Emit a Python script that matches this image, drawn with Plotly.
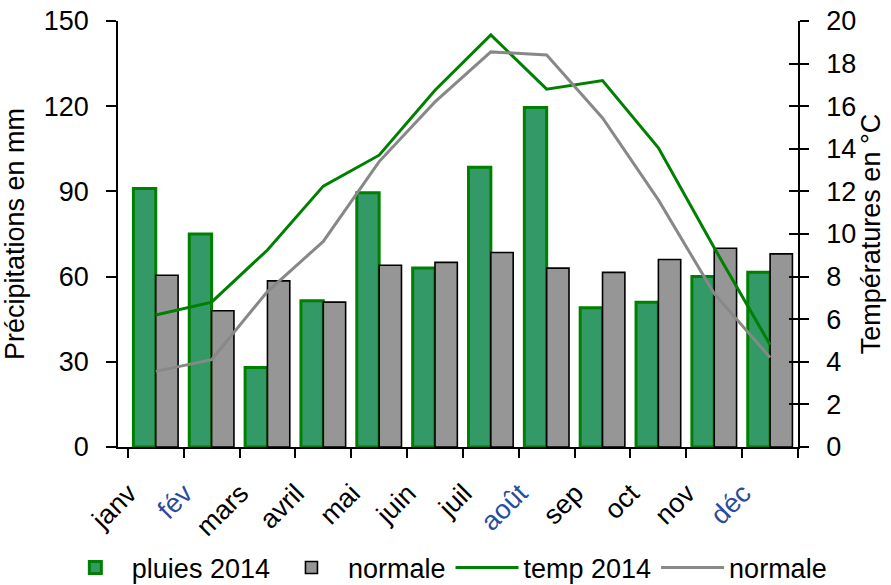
import plotly.graph_objects as go

months = ["janv", "fév", "mars", "avril", "mai", "juin", "juil", "août", "sep", "oct", "nov", "déc"]
month_labels = ["janv", "<span style='color:#2a4c9c'>fév</span>", "mars", "avril", "mai", "juin", "juil",
                "<span style='color:#2a4c9c'>août</span>", "sep", "oct", "nov",
                "<span style='color:#2a4c9c'>déc</span>"]
pluies_2014 = [91, 75, 28, 51.5, 89.5, 63, 98.5, 119.5, 49, 51, 60, 61.5]
pluies_normale = [60.5, 48, 58.5, 51, 64, 65, 68.5, 63, 61.5, 66, 70, 68]
temp_2014 = [6.2, 6.8, 9.25, 12.25, 13.7, 16.75, 19.35, 16.8, 17.2, 14.05, 9.35, 4.8]
temp_normale = [3.55, 4.1, 7.3, 9.65, 13.4, 16.2, 18.55, 18.4, 15.45, 11.6, 7.2, 4.2]
left_ticks = [0, 30, 60, 90, 120, 150]
right_ticks = [0, 2, 4, 6, 8, 10, 12, 14, 16, 18, 20]

FONT = "Liberation Sans, Arial, sans-serif"
FS = 27

fig = go.Figure()
fig.add_trace(go.Bar(x=months, y=pluies_2014, name="pluies 2014",
                     marker=dict(color="#339966", line=dict(color="#008000", width=3))))
fig.add_trace(go.Bar(x=months, y=pluies_normale, name="normale",
                     marker=dict(color="#969696", line=dict(color="#000000", width=1.6))))
fig.add_trace(go.Scatter(x=months, y=temp_2014, name="temp 2014", yaxis="y2", mode="lines",
                         line=dict(color="#008000", width=3)))
fig.add_trace(go.Scatter(x=months, y=temp_normale, name="normale", yaxis="y2", mode="lines",
                         line=dict(color="#888888", width=3)))
fig.add_trace(go.Scatter(x=[months[0]], y=[None], yaxis="y3", showlegend=False, hoverinfo="skip"))

fig.update_layout(
    width=891, height=585,
    margin=dict(l=118, r=93, t=21, b=138, autoexpand=False),
    paper_bgcolor="white", plot_bgcolor="white",
    font=dict(family=FONT, size=FS, color="black"),
    barmode="group", bargap=0.2, bargroupgap=0,
    showlegend=True,
    legend=dict(orientation="h", x=-0.087, xanchor="left", y=-0.284, yanchor="middle",
                font=dict(size=FS), itemwidth=63, tracegroupgap=0),
    xaxis=dict(type="category", tickmode="array", tickvals=months, ticktext=month_labels,
               tickson="boundaries", ticks="outside", ticklen=9, tickwidth=1.5, tickcolor="black",
               showline=True, linecolor="black", linewidth=1.5, tickangle=-45,
               ticklabelshift=-27, ticklabelstandoff=18,
               showgrid=False, zeroline=False, automargin=False, tickfont=dict(size=FS)),
    yaxis=dict(range=[0, 150], tickmode="array", tickvals=left_ticks, ticks="outside", ticklen=10,
               tickwidth=1.5, tickcolor="black", showline=True, linecolor="black", linewidth=1.5,
               showgrid=False, zeroline=False, automargin=False, ticklabelstandoff=12,
               title=dict(text="Précipitations en mm", font=dict(size=FS), standoff=11)),
    yaxis2=dict(range=[0, 20], overlaying="y", side="right", tickmode="array", tickvals=right_ticks,
                ticks="outside", ticklen=9, tickwidth=1.5, tickcolor="black", showline=True,
                linecolor="black", linewidth=1.5, showgrid=False, zeroline=False, automargin=False,
                ticklabelstandoff=12,
                title=dict(text="Températures en °C", font=dict(size=FS), standoff=4)),
    yaxis3=dict(range=[0, 20], overlaying="y", side="right", tickmode="array", tickvals=right_ticks,
                ticks="inside", ticklen=9, tickwidth=1.5, tickcolor="black", showticklabels=False,
                showline=False, showgrid=False, zeroline=False, automargin=False),
)

fig.write_html("out.html", config={"displayModeBar": False},
               post_script="document.body.style.margin='0';document.body.style.overflow='hidden';")
